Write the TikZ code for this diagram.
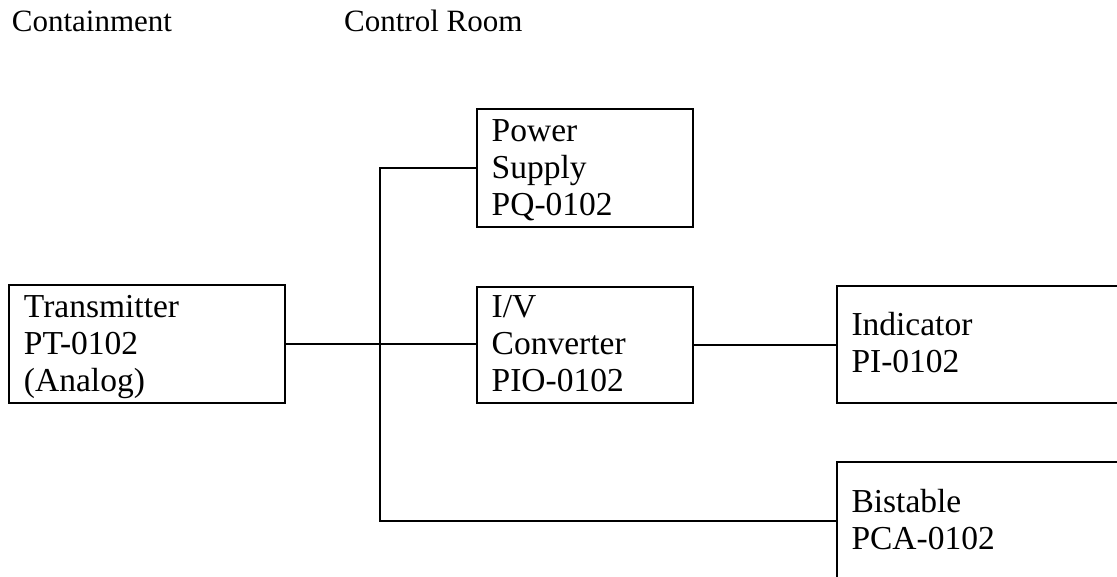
\documentclass[tikz,border=0pt]{standalone}
\usepackage{fontspec}
\setmainfont{Liberation Serif}
\tikzset{
  blk/.style={draw, line width=2pt, inner sep=0pt, anchor=north west},
  wire/.style={line width=2pt},
  ttl/.style={anchor=base west, inner sep=0pt, font=\fontsize{31}{36}\selectfont},
}
\newcommand\blktext[4]{%
  \begin{minipage}[t][#2][t]{#1}\fontsize{33.5}{36.7}\selectfont\leftskip=15pt\parindent=0pt\rule{0pt}{#3}#4\end{minipage}}
\begin{document}
\begin{tikzpicture}[x=1pt,y=-1pt]
\useasboundingbox (0,0) rectangle (1117,577);
\clip (0,0) rectangle (1117,577);
\node[ttl] (t1) at (11.7,31.7) {Containment};
\node[ttl] (t2) at (344,31.7) {Control Room};
\node[blk] (tx) at (8,284) {\blktext{276pt}{118pt}{33pt}{Transmitter\\PT-0102\\(Analog)}};
\node[blk] (ps) at (475.7,108) {\blktext{216.3pt}{118pt}{32.7pt}{Power\\Supply\\PQ-0102}};
\node[blk] (iv) at (475.7,285.7) {\blktext{216.3pt}{116pt}{31pt}{I/V\\Converter\\PIO-0102}};
\node[blk] (ind) at (835.5,285) {\blktext{350pt}{116.5pt}{50pt}{Indicator\\PI-0102}};
\node[blk] (bi) at (835.5,461) {\blktext{350pt}{117pt}{50.7pt}{Bistable\\PCA-0102}};
\coordinate (bus) at (380,167.3);
\draw[wire] (tx.east) -- (tx.east -| iv.west);
\draw[wire] (iv.east) -- (iv.east -| ind.west);
\draw[wire] (ps.west) -- (ps.west -| bus) |- (bi.west);
\end{tikzpicture}
\end{document}
